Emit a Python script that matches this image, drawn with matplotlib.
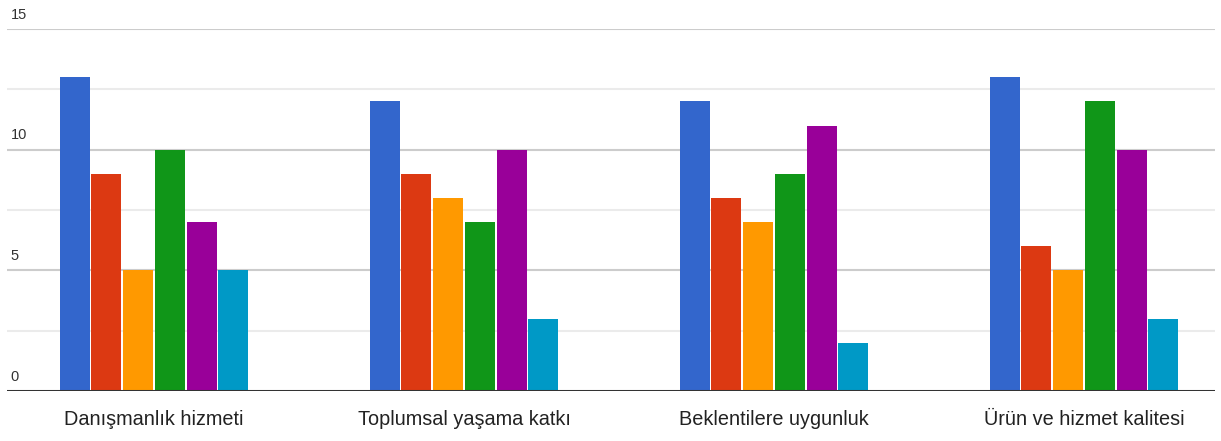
import numpy as np
import matplotlib.pyplot as plt

categories = ["Danışmanlık hizmeti", "Toplumsal yaşama katkı",
              "Beklentilere uygunluk", "Ürün ve hizmet kalitesi"]
series_values = [
    [13, 12, 12, 13],
    [9, 9, 8, 6],
    [5, 8, 7, 5],
    [10, 7, 9, 12],
    [7, 10, 11, 10],
    [5, 3, 2, 3],
]
colors = ["#3366cc", "#dc3912", "#ff9900", "#109618", "#990099", "#0099c6"]
y_ticks = [0, 5, 10, 15]

plt.rcParams['font.family'] = ['Liberation Sans', 'DejaVu Sans']

fig = plt.figure(figsize=(12.21, 4.41), dpi=100)
ax = fig.add_axes([7 / 1221, 50 / 441, 1208 / 1221, 362 / 441])

x = np.arange(len(categories))
step = 31.7 / 310
width = 30 / 310
n = len(series_values)
for i, (vals, c) in enumerate(zip(series_values, colors)):
    offs = (i - (n - 1) / 2) * step
    ax.bar(x + offs, vals, width=width, color=c, zorder=3)

# gridlines
for v in [2.5, 7.5, 12.5]:
    ax.axhline(v, color="#ebebeb", lw=1.5, zorder=1)
for v in [5, 10, 15]:
    ax.axhline(v, color="#cccccc", lw=1.5, zorder=1)
ax.axhline(0, color="#333333", lw=2.2, zorder=4)

ax.set_xlim((7 - 154) / 310, (1215 - 154) / 310)
ax.set_ylim(0, 15)
ax.set_yticks([])
ax.set_xticks([])
for s in ax.spines.values():
    s.set_visible(False)

# y labels drawn inside the plot, just above the gridlines
for v in y_ticks:
    ax.text(0.003, v + 0.3, str(v), transform=ax.get_yaxis_transform(),
            ha="left", va="bottom", fontsize=10.5, color="#333333")

for xi, lab in zip(x, categories):
    ax.text(xi, -1.2, lab, ha="center", va="center", fontsize=14.3,
            color="#222222", clip_on=False)

fig.savefig("out.png", dpi=100)
